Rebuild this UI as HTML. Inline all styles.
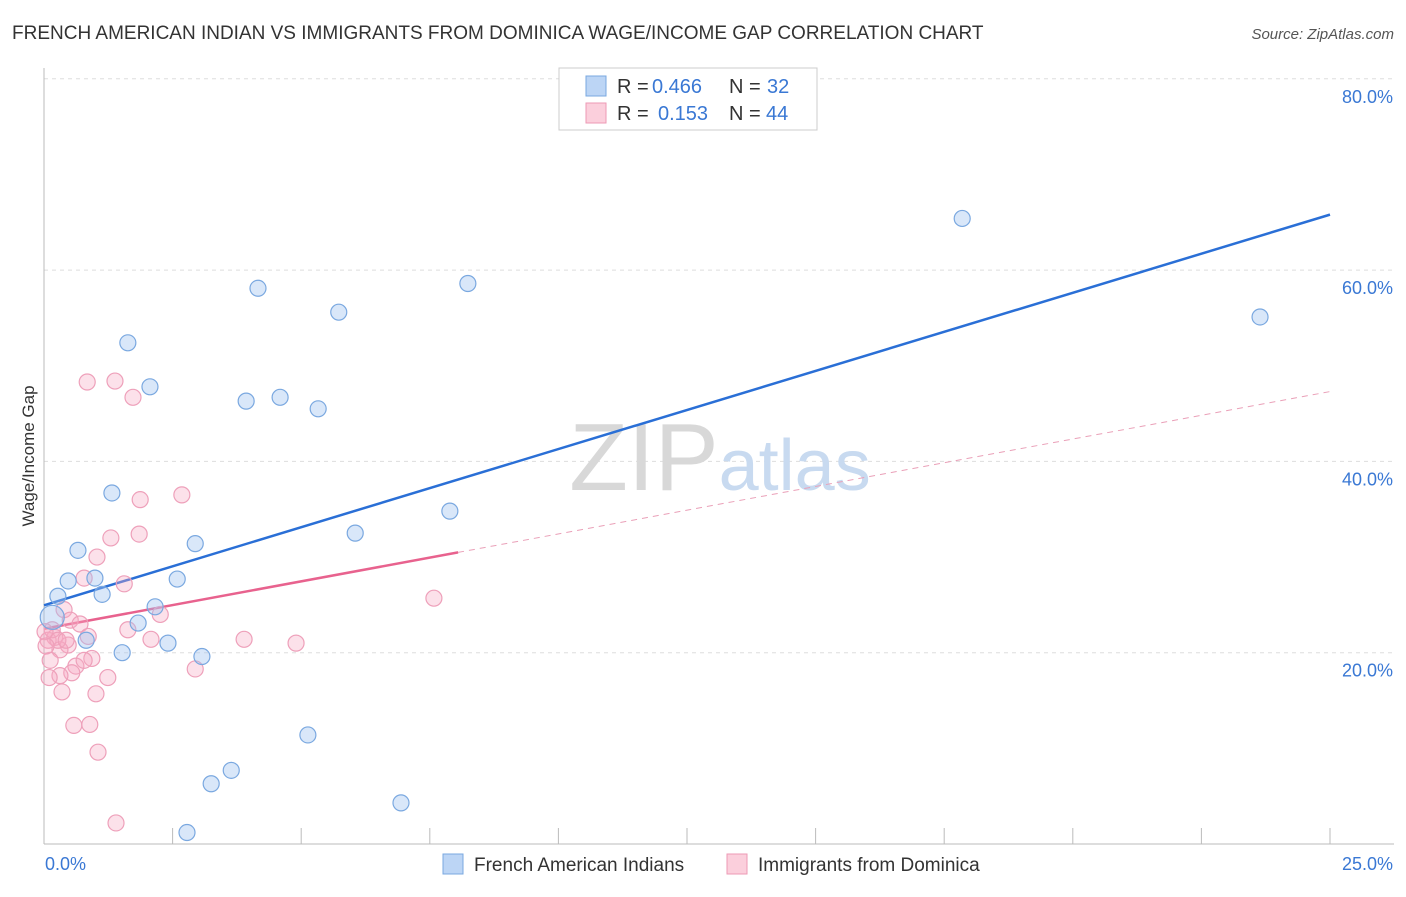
<!DOCTYPE html>
<html><head><meta charset="utf-8"><style>
body{margin:0;background:#fff;font-family:"Liberation Sans",sans-serif;}
svg text{font-family:"Liberation Sans",sans-serif;}
</style></head><body>
<svg id="chart" width="1406" height="892" xmlns="http://www.w3.org/2000/svg">
<text x="12" y="39" font-size="19" fill="#333">FRENCH AMERICAN INDIAN VS IMMIGRANTS FROM DOMINICA WAGE/INCOME GAP CORRELATION CHART</text>
<text x="1394" y="39" font-size="15" fill="#555" text-anchor="end" font-style="italic">Source: ZipAtlas.com</text>
<text transform="translate(34,456) rotate(-90)" font-size="17" fill="#333" text-anchor="middle">Wage/Income Gap</text>
<g id="grid"></g>
<text x="720" y="490" font-size="96" text-anchor="middle" fill="#ddd" font-family="Liberation Serif"><tspan fill="#d8d8d8">ZIP</tspan><tspan fill="#c8daf0" font-family="Liberation Sans" font-size="72">atlas</tspan></text>
<g id="lines"></g>
<g id="points"></g>
<g font-size="20">
<rect x="559" y="68" width="258" height="62" fill="#fff" stroke="#ccc"/>
<rect x="586" y="76" width="20" height="20" fill="#bcd5f5" stroke="#7aa8e0"/>
<text x="617" y="93" fill="#333">R =</text><text x="652" y="93" fill="#3a78d4">0.466</text>
<text x="729" y="93" fill="#333">N =</text><text x="767" y="93" fill="#3a78d4">32</text>
<rect x="586" y="103" width="20" height="20" fill="#fbcfdc" stroke="#ee9ab5"/>
<text x="617" y="120" fill="#333">R =</text><text x="658" y="120" fill="#3a78d4">0.153</text>
<text x="729" y="120" fill="#333">N =</text><text x="766" y="120" fill="#3a78d4">44</text>
</g>
<g>
<rect x="443" y="854" width="20" height="20" fill="#bcd5f5" stroke="#7aa8e0"/>
<text x="474" y="871" font-size="19" fill="#333">French American Indians</text>
<rect x="727" y="854" width="20" height="20" fill="#fbcfdc" stroke="#ee9ab5"/>
<text x="758" y="871" font-size="19" fill="#333">Immigrants from Dominica</text>
</g>
</svg>
<script>
const yTicks=[20,40,60,80];
const xTickLabels=["0.0%","25.0%"];
const blueX=[1.63,2.06,4.16,5.73,8.24,17.85,23.64,3.93,4.59,5.33,1.32,0.66,0.47,0.99,0.27,1.13,2.94,2.59,2.16,1.83,0.82,2.41,1.52,3.07,6.05,7.89,5.13,3.64,3.25,6.94,2.78,0.16];
const blueY=[52.4,47.8,58.1,55.6,58.6,65.4,55.1,46.3,46.7,45.5,36.7,30.7,27.5,27.8,25.9,26.1,31.4,27.7,24.8,23.1,21.3,21.0,20.0,19.6,32.5,34.8,11.4,7.7,6.3,4.3,1.2,23.7];
const pinkX=[0.84,1.38,1.73,2.68,1.87,1.85,1.30,1.03,0.78,1.56,2.26,1.63,2.08,3.89,4.90,7.58,0.39,0.51,0.70,0.86,0.21,0.08,0.47,0.31,0.93,0.62,0.54,0.12,0.31,0.10,1.24,0.35,1.01,2.94,0.58,0.89,1.05,1.40,0.16,0.02,0.78,0.27,0.43,0.04];
const pinkY=[48.3,48.4,46.7,36.5,36.0,32.4,32.0,30.0,27.8,27.2,24.0,22.4,21.4,21.4,21.0,25.7,24.5,23.4,23.0,21.7,21.6,21.3,20.8,20.3,19.4,18.6,17.9,19.2,17.6,17.4,17.4,15.9,15.7,18.3,12.4,12.5,9.6,2.2,22.4,22.2,19.2,21.3,21.3,20.7];
const blueLine=[24.95,65.8];
const pinkLine=[22.5,47.3];
const pinkSolidEnd=8.05;
const NS="http://www.w3.org/2000/svg";
const X=v=>44+v/25*1286;
const Y=v=>844-v/20*191.3;
function mk(tag,attrs,parent){const e=document.createElementNS(NS,tag);for(const k in attrs)e.setAttribute(k,attrs[k]);parent.appendChild(e);return e;}
const grid=document.getElementById('grid');
yTicks.forEach(t=>{
  const l=mk('line',{x1:44,x2:1394,y1:Y(t),y2:Y(t),stroke:'#ddd','stroke-dasharray':'4,4'},grid);
  
  
  const tx=mk('text',{x:1393,y:Y(t)+24,'font-size':18,fill:'#3a78d4','text-anchor':'end'},grid);
  tx.textContent=t.toFixed(1)+'%';
  
  
});
const ax=mk('line',{x1:44,x2:44,y1:68,y2:844,stroke:'#bbb'},grid);


const bx=mk('line',{x1:44,x2:1394,y1:844,y2:844,stroke:'#bbb'},grid);


for(let i=0;i<=10;i++){const t=mk('line',{x1:X(i*2.5),x2:X(i*2.5),y1:828,y2:844,stroke:'#bbb'},grid);

}
xTickLabels.forEach((s,i)=>{const t=mk('text',{x:i?1393:45,y:870,'font-size':18,fill:'#3a78d4','text-anchor':i?'end':'start'},grid);t.textContent=s;

});
const lines=document.getElementById('lines');
const bl=mk('line',{x1:X(0),y1:Y(blueLine[0]),x2:X(25),y2:Y(blueLine[1]),stroke:'#2a6fd6','stroke-width':2.5},lines);


const py=x=>pinkLine[0]+(pinkLine[1]-pinkLine[0])*x/25;
const ps=mk('line',{x1:X(0),y1:Y(py(0)),x2:X(pinkSolidEnd),y2:Y(py(pinkSolidEnd)),stroke:'#e8628e','stroke-width':2.5},lines);


const pd=mk('line',{x1:X(pinkSolidEnd),y1:Y(py(pinkSolidEnd)),x2:X(25),y2:Y(py(25)),stroke:'#eaa0b8','stroke-width':1,'stroke-dasharray':'6,5'},lines);


const pts=document.getElementById('points');
pinkX.forEach((x,i)=>{const c=mk('circle',{cx:X(x),cy:Y(pinkY[i]),r:8,fill:'rgba(246,170,196,0.35)',stroke:'#eea0ba','stroke-width':1.2},pts);

});
blueX.forEach((x,i)=>{const c=mk('circle',{cx:X(x),cy:Y(blueY[i]),r:i==blueX.length-1?12:8,fill:'rgba(160,196,240,0.4)',stroke:'#7aa8e0','stroke-width':1.2},pts);

});
</script>
</body></html>
